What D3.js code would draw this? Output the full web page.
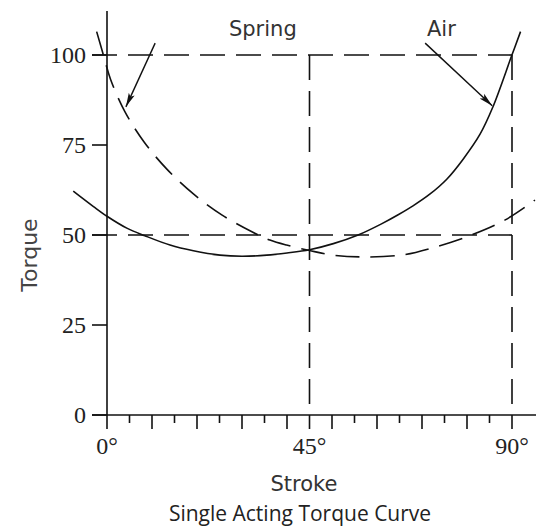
<!DOCTYPE html>
<html>
<head>
<meta charset="utf-8">
<script src="https://cdn.jsdelivr.net/npm/d3@7"></script>
<style>
html,body{margin:0;padding:0;background:#fff;}
svg{display:block;}
</style>
</head>
<body>
<svg id="chart" width="536" height="526"></svg>
<script>
// ---- data ----
const yTicks = [0, 25, 50, 75, 100];
const xLabelTicks = [0, 45, 90];
const xLabels = ["0°", "45°", "90°"];
const xMinorTicks = d3.range(0, 91, 5);

const airDeg = [-7.5, -3, 0, 4.4, 8.4, 14, 19.2, 25.1, 30, 35.5, 40, 45, 50.3, 55.8, 61, 64.8, 68, 71.8, 75.5, 79.1, 82.9, 85.7, 89.9, 91.9];
const airVal = [62.2, 57.9, 55.2, 51.9, 49.8, 47.2, 45.6, 44.4, 44.1, 44.4, 45.0, 45.9, 47.6, 50.0, 53.1, 55.7, 58.1, 61.4, 65.5, 71.0, 78.0, 85.4, 99.7, 106.5];

const springDeg = [-2.3, -0.8, 0.8, 4, 8.2, 13.3, 19.2, 25.5, 32.2, 36.2, 39.9, 45, 50.3, 57, 65.8, 72.5, 81, 88.5, 95.1];
const springVal = [106.5, 100, 93.2, 84.2, 75.9, 68.3, 61.4, 55.6, 50.9, 48.6, 47.2, 45.7, 44.4, 43.9, 44.5, 46.5, 50.0, 54.2, 59.7];

const refLinesY = [50, 100];
const refLinesX = [45, 90];

const arrowSpring = {from: [10.7, 103.3], to: [4.2, 85.6]};
const arrowAir = {from: [70.7, 103.3], to: [85.6, 85.9]};

const labelSpring = {text: "Spring", at: [27.1, 105.3]};
const labelAir = {text: "Air", at: [71.1, 105.3]};

const yTitle = "Torque";
const xTitle = "Stroke";
const chartTitle = "Single Acting Torque Curve";

// ---- drawing ----
const svg = d3.select("#chart");
const x = d3.scaleLinear().domain([0, 90]).range([107, 512]);
const y = d3.scaleLinear().domain([0, 100]).range([415, 55]);
const ink = "#111";

// reference dashed lines
const dash = "25,11";
svg.selectAll(".hline").data(refLinesY).join("line")
  .attr("x1", x(0) - 15).attr("x2", x(90))
  .attr("y1", d => y(d)).attr("y2", d => y(d))
  .attr("stroke", ink).attr("stroke-width", 1.6).attr("stroke-dasharray", dash);
svg.selectAll(".vline").data(refLinesX).join("line")
  .attr("x1", d => x(d)).attr("x2", d => x(d))
  .attr("y1", y(100)).attr("y2", y(0))
  .attr("stroke", ink).attr("stroke-width", 1.6).attr("stroke-dasharray", dash);

// axes
svg.append("line").attr("x1", x(0)).attr("x2", x(0)).attr("y1", 11).attr("y2", y(0))
  .attr("stroke", ink).attr("stroke-width", 1.6);
svg.append("line").attr("x1", x(0) - 15).attr("x2", 536).attr("y1", y(0)).attr("y2", y(0))
  .attr("stroke", ink).attr("stroke-width", 1.6);

// y ticks
svg.selectAll(".ytick").data(yTicks).join("line")
  .attr("x1", x(0) - 15).attr("x2", x(0))
  .attr("y1", d => y(d)).attr("y2", d => y(d))
  .attr("stroke", ink).attr("stroke-width", 1.6);
svg.selectAll(".ylab").data(yTicks).join("text")
  .attr("x", x(0) - 21).attr("y", d => y(d) + 8)
  .attr("text-anchor", "end")
  .attr("font-family", "Liberation Serif").attr("font-size", 24)
  .attr("fill", "#222").text(d => d);

// x ticks
svg.selectAll(".xtick").data(xMinorTicks).join("line")
  .attr("x1", d => x(d)).attr("x2", d => x(d))
  .attr("y1", y(0)).attr("y2", d => y(0) + (d % 10 === 0 || d % 45 === 0 ? 14 : 8))
  .attr("stroke", ink).attr("stroke-width", 1.6);
svg.selectAll(".xlab").data(xLabelTicks).join("text")
  .attr("x", d => x(d)).attr("y", 454)
  .attr("text-anchor", "middle")
  .attr("font-family", "Liberation Serif").attr("font-size", 24)
  .attr("fill", "#222").text((d, i) => xLabels[i]);

// curves
const line = d3.line().x(d => x(d[0])).y(d => y(d[1])).curve(d3.curveCatmullRom.alpha(0.5));
svg.append("path").datum(airDeg.map((d, i) => [d, airVal[i]]))
  .attr("d", line).attr("fill", "none").attr("stroke", ink).attr("stroke-width", 1.6);
svg.append("path").datum(springDeg.map((d, i) => [d, springVal[i]]))
  .attr("d", line).attr("fill", "none").attr("stroke", ink).attr("stroke-width", 1.6)
  .attr("stroke-dasharray", "24,11");

// arrows
const defs = svg.append("defs");
defs.append("marker").attr("id", "ah").attr("viewBox", "0 0 14 8")
  .attr("refX", 14).attr("refY", 4).attr("markerWidth", 14).attr("markerHeight", 8)
  .attr("markerUnits", "userSpaceOnUse").attr("orient", "auto")
  .append("path").attr("d", "M0,0.8 L14,4 L0,7.2 L3,4 Z").attr("fill", ink);
[arrowSpring, arrowAir].forEach(a => {
  svg.append("line")
    .attr("x1", x(a.from[0])).attr("y1", y(a.from[1]))
    .attr("x2", x(a.to[0])).attr("y2", y(a.to[1]))
    .attr("stroke", ink).attr("stroke-width", 1.4).attr("marker-end", "url(#ah)");
});

// labels
[labelSpring, labelAir].forEach(l => {
  svg.append("text").attr("x", x(l.at[0])).attr("y", y(l.at[1]))
    .attr("font-family", "DejaVu Sans").attr("font-size", 21)
    .attr("fill", "#333").text(l.text);
});

svg.append("text")
  .attr("transform", `translate(37,255) rotate(-90)`)
  .attr("text-anchor", "middle")
  .attr("font-family", "DejaVu Sans").attr("font-size", 22)
  .attr("fill", "#444").text(yTitle);
svg.append("text").attr("x", 304).attr("y", 491)
  .attr("text-anchor", "middle")
  .attr("font-family", "DejaVu Sans").attr("font-size", 21)
  .attr("fill", "#333").text(xTitle);
svg.append("text").attr("x", 300).attr("y", 521)
  .attr("text-anchor", "middle")
  .attr("font-family", "Open Sans").attr("font-size", 21)
  .attr("fill", "#222").text(chartTitle);
</script>
</body>
</html>
